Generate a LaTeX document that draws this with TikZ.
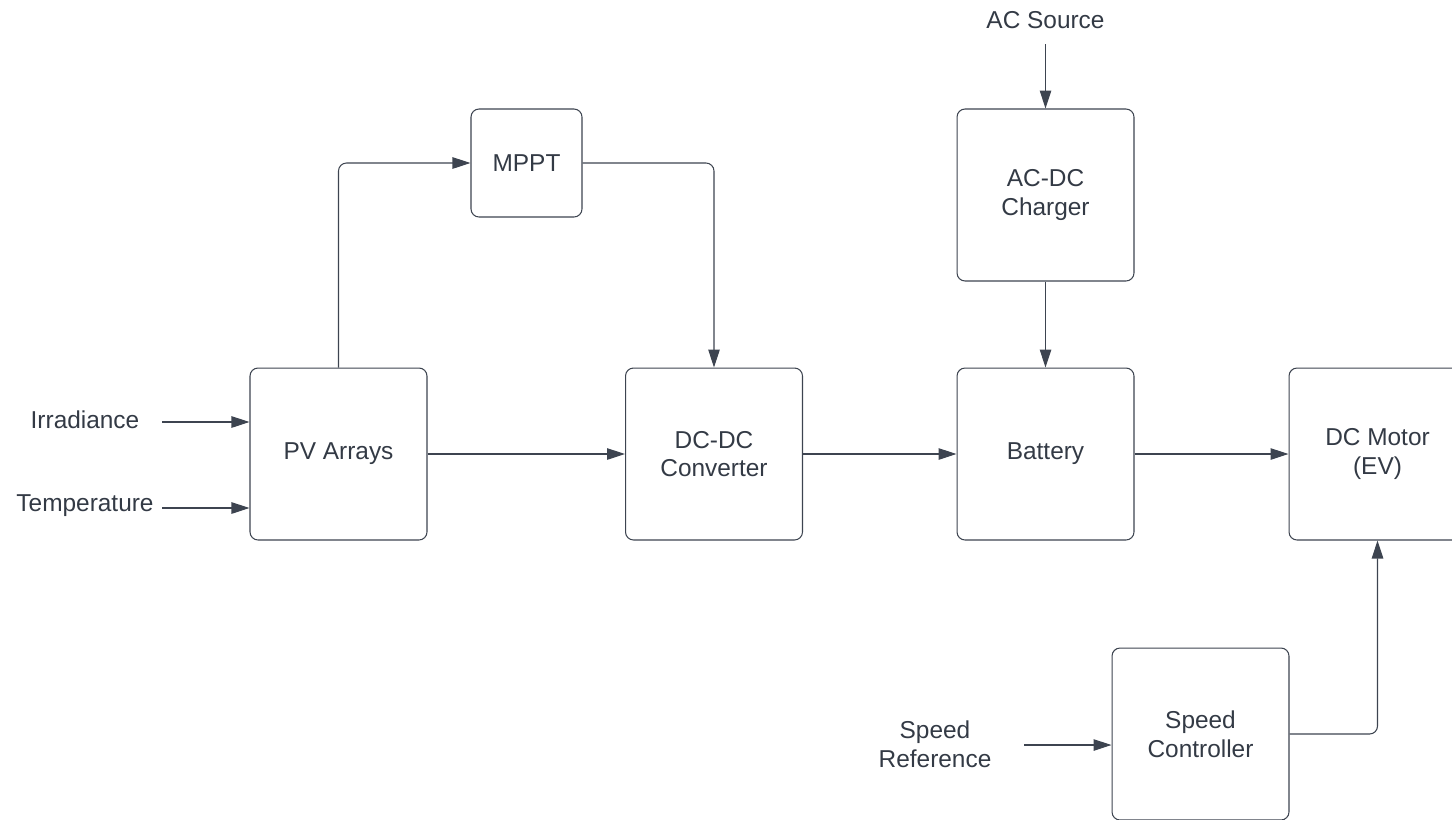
\documentclass[tikz,border=0pt]{standalone}
\usepackage{fontspec}
\setmainfont{Liberation Sans}
\usetikzlibrary{arrows.meta,positioning}
\definecolor{ink}{HTML}{333A45}
\definecolor{wire}{HTML}{3D4450}
\newcommand{\lblfont}{\fontsize{13.9}{16.4}\selectfont}

\begin{document}
\begin{tikzpicture}[
x=0.02cm,y=-0.02cm,
box/.style={draw=wire,line width=0.6pt,rounded corners=1.6mm,align=center,minimum width=35.4mm,minimum height=34.4mm,text=ink,font=\lblfont},
smallbox/.style={box,minimum width=22.2mm,minimum height=21.6mm},
lbl/.style={text=ink,align=center,font=\lblfont},
arr/.style={-{Triangle[length=3.6mm,width=2.3mm]},line width=0.6pt,color=wire,rounded corners=1.6mm}
]
\clip (0,0) rectangle (1452,819);
% blocks
\node[box] (pv) at (338.5,454) {PV Arrays};
\node[smallbox] (mppt) at (526.5,163) {MPPT};
\node[box] (dcdc) at (714,454) {DC-DC\\Converter};
\node[box] (chg) at (1045.5,195) {AC-DC\\Charger};
\node[box] (bat) at (1045.5,454) {Battery};
\node[box] (motor) at (1377.5,454) {DC Motor\\(EV)};
\node[box] (spd) at (1200.5,734) {Speed\\Controller};
% inputs
\node[lbl] (irr) at (85,420) {Irradiance};
\node[lbl] (temp) at (85,506) {Temperature};
\node[lbl] (acs) at (1045.5,20) {AC Source};
\node[lbl] (sref) at (935,744) {Speed\\Reference};
\coordinate (irrin) at (162,422);
\coordinate (tempin) at (162,508);
\coordinate (acsin) at (1045.5,44);
\coordinate (srefin) at (1024,745);
% connections
\draw[arr] (irrin) -- (irrin -| pv.west);
\draw[arr] (tempin) -- (tempin -| pv.west);
\draw[arr] (pv.north) |- (mppt.west);
\draw[arr] (mppt.east) -| (dcdc.north);
\draw[arr] (pv.east) -- (dcdc.west);
\draw[arr] (dcdc.east) -- (bat.west);
\draw[arr] (bat.east) -- (motor.west);
\draw[arr] (acsin) -- (chg.north);
\draw[arr] (chg.south) -- (bat.north);
\draw[arr] (srefin) -- (srefin -| spd.west);
\draw[arr] (spd.east) -| (motor.south);
\end{tikzpicture}
\end{document}
